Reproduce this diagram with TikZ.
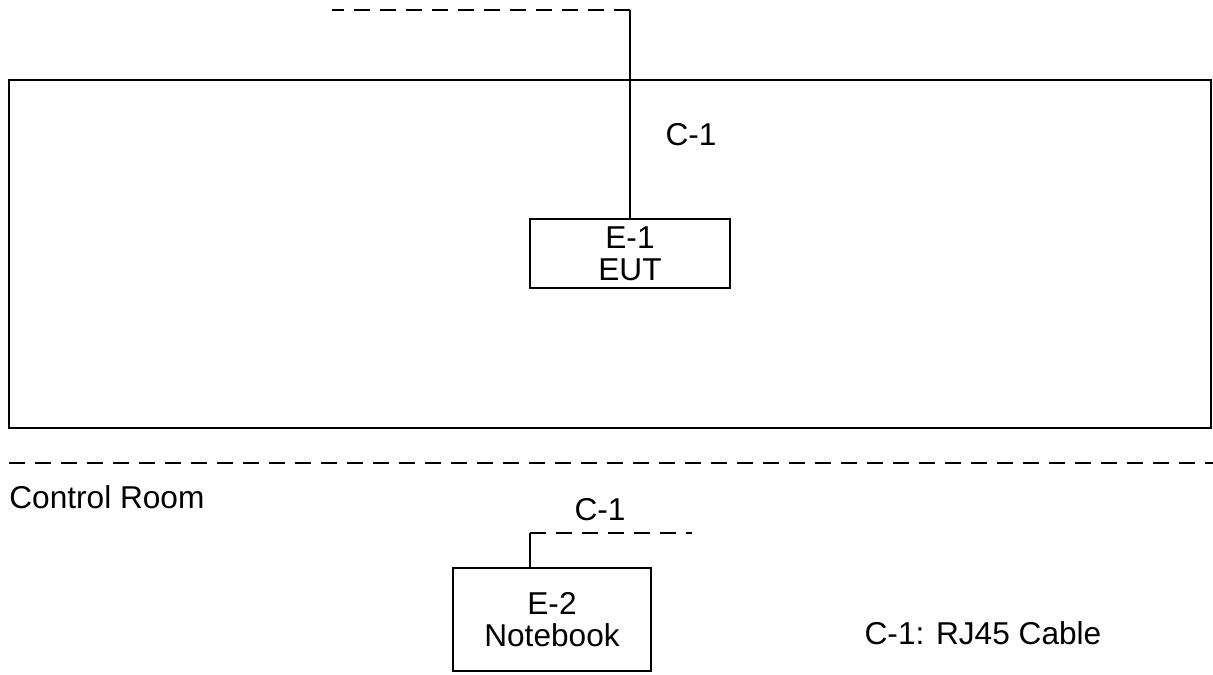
\documentclass[tikz,border=0pt]{standalone}
\usepackage{fontspec}
\setmainfont{Liberation Sans}
\usetikzlibrary{positioning}

\tikzset{
	unitbox/.style={draw, line width=0.9pt, align=center, inner sep=0pt,
		font=\fontsize{18}{18.2}\selectfont},
	lbl/.style={font=\fontsize{18}{18.2}\selectfont, inner sep=0pt},
	cable/.style={line width=0.6pt},
	bus/.style={line width=0.9pt, dash pattern=on 0.32cm off 0.2cm}
}

\begin{document}
\begin{tikzpicture}[x=0.02cm, y=-0.02cm]
				\useasboundingbox (0,0) rectangle (1213,674);
				
				% chamber
				\draw[line width=0.9pt] (9,80) rectangle (1211,428);
				
				\node[unitbox, minimum width=4cm, minimum height=1.38cm] (eut) at (630,253.5) {E-1\\EUT};
				\coordinate (topend) at (630,10);
				\coordinate (topleft) at (332,10);
				\draw[cable] (eut.north) -- (topend);
				\draw[bus] (topend) -- (topleft);
				\node[lbl] (c1a) at (691,135) {C-1};
				
				% separation to control room
				\coordinate (sepl) at (9,463);
				\coordinate (sepr) at (1213,463);
				\draw[bus] (sepl) -- (sepr);
				\node[lbl, anchor=west] (room) at (9,497) {Control Room};
				
				\node[unitbox, minimum width=3.96cm, minimum height=2.06cm] (nb) at (552,619.5) {E-2\\Notebook};
				\coordinate (nbup) at (530,533);
				\coordinate (nbend) at (692,533);
				\draw[cable] (nb.north -| nbup) -- (nbup);
				\draw[bus] (nbup) -- (nbend);
				\node[lbl] (c1b) at (600,510) {C-1};
				
				\node[lbl] (legend) at (983,633) {C-1: RJ45 Cable};
\end{tikzpicture}
\end{document}
